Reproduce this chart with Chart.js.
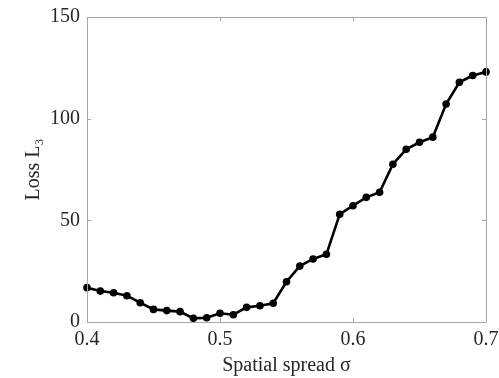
<!DOCTYPE html>
<html>
<head>
<meta charset="utf-8">
<script src="https://cdn.jsdelivr.net/npm/chart.js@4.4.0/dist/chart.umd.min.js"></script>
<style>
html,body{margin:0;padding:0;background:#fff;}
#wrap{width:499px;height:378px;position:relative;}
</style>
</head>
<body>
<div id="wrap"><canvas id="c" width="499" height="378"></canvas></div>
<script>
const sigma = [0.40,0.41,0.42,0.43,0.44,0.45,0.46,0.47,0.48,0.49,0.50,0.51,0.52,0.53,0.54,0.55,0.56,0.57,0.58,0.59,0.60,0.61,0.62,0.63,0.64,0.65,0.66,0.67,0.68,0.69,0.70];
const loss = [16.9,15.2,14.4,12.9,9.5,6.2,5.6,5.1,1.8,2.1,4.3,3.6,7.2,8.0,9.2,19.8,27.5,31.0,33.3,53.0,57.2,61.3,63.8,77.6,84.9,88.4,90.9,107.2,117.9,121.2,123.0];
const xTicks = [0.4,0.5,0.6,0.7];
const yTicks = [0,50,100,150];
const xTitle = 'Spatial spread σ';
const yTitle = 'Loss L₃';

const FONT = "'Liberation Serif', 'DejaVu Serif', serif";
const AXIS = '#a6a6a6';
const TXT = '#262626';

const framePlugin = {
  id: 'frame',
  afterDraw(chart) {
    const {ctx, chartArea: a, scales} = chart;
    ctx.save();
    ctx.strokeStyle = AXIS;
    ctx.lineWidth = 1;
    ctx.beginPath();
    ctx.rect(Math.round(a.left)+0.5, Math.round(a.top)+0.5, Math.round(a.right-a.left), Math.round(a.bottom-a.top));
    const L = 4;
    scales.x.ticks.forEach(t => {
      const px = Math.round(scales.x.getPixelForValue(t.value)) + 0.5;
      ctx.moveTo(px, a.bottom); ctx.lineTo(px, a.bottom - L);
      ctx.moveTo(px, a.top); ctx.lineTo(px, a.top + L);
    });
    scales.y.ticks.forEach(t => {
      const py = Math.round(scales.y.getPixelForValue(t.value)) + 0.5;
      ctx.moveTo(a.left, py); ctx.lineTo(a.left + L, py);
      ctx.moveTo(a.right, py); ctx.lineTo(a.right - L, py);
    });
    ctx.stroke();
    ctx.restore();
  }
};

new Chart(document.getElementById('c'), {
  type: 'line',
  data: {
    datasets: [{
      data: sigma.map((s, i) => ({x: s, y: loss[i]})),
      borderColor: '#000',
      backgroundColor: '#000',
      borderWidth: 2.6,
      pointRadius: 3.8,
      pointBackgroundColor: '#000',
      pointBorderColor: '#000',
      pointBorderWidth: 0,
      tension: 0,
      clip: false
    }]
  },
  options: {
    responsive: false,
    animation: false,
    devicePixelRatio: 1,
    layout: {padding: {left: 0, right: 13, top: 17, bottom: 0}},
    plugins: {legend: {display: false}, tooltip: {enabled: false}},
    scales: {
      x: {
        type: 'linear',
        min: 0.4, max: 0.7,
        afterBuildTicks: s => { s.ticks = xTicks.map(v => ({value: v})); },
        afterFit: s => { s.height = 56; s.paddingLeft = 0; s.paddingRight = 0; },
        grid: {display: false, drawTicks: false},
        border: {display: false},
        ticks: {
          padding: 6,
          color: TXT,
          font: {family: FONT, size: 20},
          maxRotation: 0,
          callback: v => v.toFixed(1)
        },
        title: {display: true, text: xTitle, color: TXT, font: {family: FONT, size: 20}, padding: {top: 0, bottom: 0}}
      },
      y: {
        type: 'linear',
        min: 0, max: 150,
        afterBuildTicks: s => { s.ticks = yTicks.map(v => ({value: v})); },
        afterFit: s => { s.width = 87; s.paddingTop = 0; s.paddingBottom = 0; },
        grid: {display: false, drawTicks: false},
        border: {display: false},
        ticks: {
          padding: 7,
          color: TXT,
          font: {family: FONT, size: 20},
          callback: v => String(v)
        },
        title: {display: true, text: yTitle, color: TXT, font: {family: FONT, size: 20}, padding: {top: 22, bottom: 0}}
      }
    }
  },
  plugins: [framePlugin]
});
</script>
</body>
</html>
